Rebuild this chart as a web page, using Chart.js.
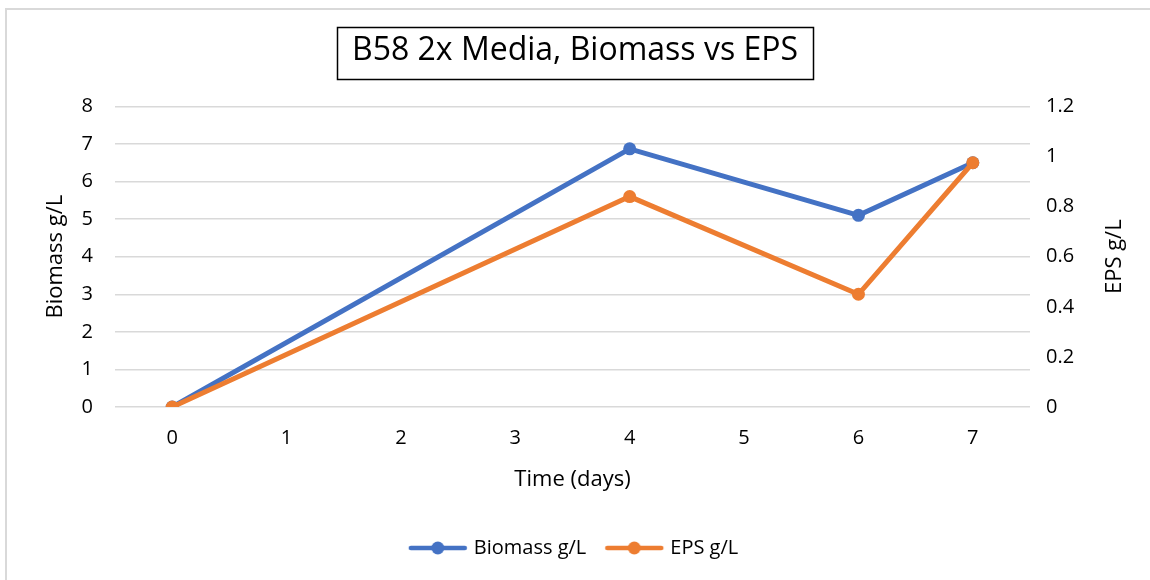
<!DOCTYPE html>
<html>
<head>
<meta charset="utf-8">
<script src="https://cdn.jsdelivr.net/npm/chart.js@4/dist/chart.umd.min.js"></script>
<style>
  html, body { margin: 0; padding: 0; background: #ffffff; }
  #wrap { width: 1150px; height: 580px; position: relative; }
</style>
</head>
<body>
<div id="wrap"><canvas id="c" width="1150" height="580"></canvas></div>
<script>
const days = ['0', '1', '2', '3', '4', '5', '6', '7'];
const biomass = [0, null, null, null, 6.87, null, 5.1, 6.5];
const eps = [0, null, null, null, 0.84, null, 0.45, 0.975];
const titleText = 'B58 2x Media, Biomass vs EPS';
const xTitle = 'Time (days)';
const yLeftTitle = 'Biomass g/L';
const yRightTitle = 'EPS g/L';

const BLUE = '#4472C4';
const ORANGE = '#ED7D31';
const FONT = '"Open Sans", "Noto Sans", sans-serif';

function legendIcon(color) {
  const c = document.createElement('canvas');
  c.width = 64; c.height = 14;
  const g = c.getContext('2d');
  g.strokeStyle = color; g.lineWidth = 4.5; g.lineCap = 'round';
  g.beginPath(); g.moveTo(5, 7); g.lineTo(59, 7); g.stroke();
  g.fillStyle = color;
  g.beginPath(); g.arc(32, 7, 6.5, 0, Math.PI * 2); g.fill();
  return c;
}
const icons = [legendIcon(BLUE), legendIcon(ORANGE)];

const TITLE_SIZE = 32;

const decor = {
  id: 'decor',
  beforeDraw(chart) {
    const ctx = chart.ctx;
    ctx.save();
    ctx.fillStyle = '#D9D9D9';
    ctx.fillRect(5, 8, 1145, 2);
    ctx.fillRect(5, 8, 2, 572);
    ctx.restore();
  },
  afterDraw(chart) {
    const ctx = chart.ctx;
    const tb = chart.titleBlock;
    ctx.save();
    ctx.font = TITLE_SIZE + 'px ' + FONT;
    const w = ctx.measureText(titleText).width;
    const cx = (tb.left + tb.right) / 2;
    ctx.strokeStyle = '#000000';
    ctx.lineWidth = 1.5;
    ctx.strokeRect(Math.round(cx - w / 2 - 15) + 0.5, 27.5, Math.round(w + 30), 52);
    // right axis title, rotated like the left one
    ctx.font = '22px ' + FONT;
    ctx.fillStyle = '#000000';
    ctx.textAlign = 'center';
    ctx.textBaseline = 'middle';
    ctx.translate(1115, (chart.chartArea.top + chart.chartArea.bottom) / 2);
    ctx.rotate(-Math.PI / 2);
    ctx.fillText(yRightTitle, 0, 0);
    ctx.restore();
  }
};

new Chart(document.getElementById('c'), {
  type: 'line',
  data: {
    labels: days,
    datasets: [
      { label: 'Biomass g/L', data: biomass, yAxisID: 'y', order: 1, borderColor: BLUE, backgroundColor: BLUE,
        borderWidth: 5, pointRadius: 6.5, pointHoverRadius: 6.5, pointBorderWidth: 0, spanGaps: true, tension: 0 },
      { label: 'EPS g/L', data: eps, yAxisID: 'y1', order: 0, borderColor: ORANGE, backgroundColor: ORANGE,
        borderWidth: 5, pointRadius: 6.5, pointHoverRadius: 6.5, pointBorderWidth: 0, spanGaps: true, tension: 0 }
    ]
  },
  options: {
    responsive: false,
    animation: false,
    devicePixelRatio: 1,
    layout: { padding: { top: 32, left: 0, right: 0, bottom: 12 } },
    plugins: {
      title: {
        display: true, text: titleText, color: '#000000',
        font: { family: FONT, size: TITLE_SIZE, weight: 'normal', lineHeight: 1.2 },
        padding: { top: 0, bottom: 36 }
      },
      legend: {
        position: 'bottom',
        labels: {
          color: '#000000',
          font: { family: FONT, size: 20 },
          usePointStyle: true,
          pointStyleWidth: 52,
          padding: 22,
          generateLabels(chart) {
            return chart.data.datasets.map((ds, i) => ({
              text: ds.label, fillStyle: ds.borderColor, strokeStyle: ds.borderColor,
              lineWidth: 0, pointStyle: icons[i], datasetIndex: i, hidden: false, fontColor: '#000000'
            }));
          }
        }
      },
      tooltip: { enabled: false }
    },
    scales: {
      x: {
        type: 'category', offset: true,
        grid: { display: false, drawTicks: false },
        border: { display: false },
        ticks: { color: '#000000', font: { family: FONT, size: 20 }, padding: 19, maxRotation: 0 },
        title: { display: true, text: xTitle, color: '#000000', font: { family: FONT, size: 22 }, padding: { top: 0, bottom: 23 } },
        afterFit(s) { s.height = 109; }
      },
      y: {
        position: 'left', min: 0, max: 8,
        ticks: { stepSize: 1, color: '#000000', font: { family: FONT, size: 20 }, padding: 22 },
        grid: { color: '#D9D9D9', lineWidth: 1.5, drawTicks: false },
        border: { display: false },
        title: { display: true, text: yLeftTitle, color: '#000000', font: { family: FONT, size: 22 }, padding: { top: 43 } },
        afterFit(s) { s.width = 115; }
      },
      y1: {
        position: 'right', min: 0, max: 1.2,
        ticks: { stepSize: 0.2, color: '#000000', font: { family: FONT, size: 20 }, padding: 16,
          callback: (v) => String(Math.round(v * 10) / 10) },
        grid: { display: false, drawTicks: false },
        border: { display: false },
        afterFit(s) { s.width = 120; }
      }
    }
  },
  plugins: [decor]
});
</script>
</body>
</html>
